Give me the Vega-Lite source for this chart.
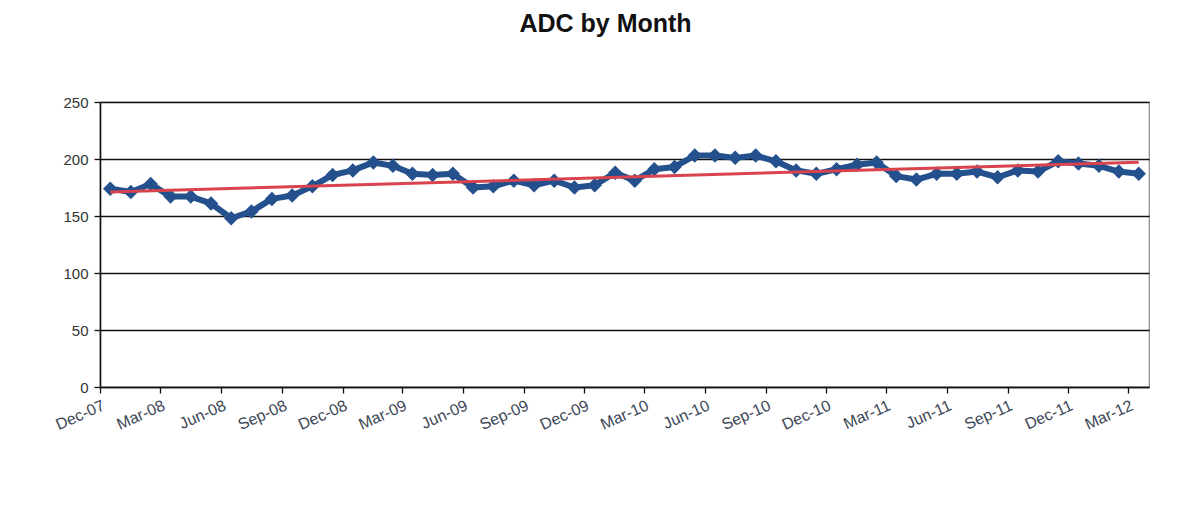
{
  "$schema": "https://vega.github.io/schema/vega-lite/v6.json",
  "autosize": {"type": "none"},
  "width": 1049,
  "height": 285,
  "padding": {"left": 100, "top": 102, "right": 47, "bottom": 144},
  "background": "white",
  "title": {
    "text": "ADC by Month",
    "font": "Liberation Sans",
    "fontSize": 25,
    "fontWeight": "bold",
    "color": "#111111",
    "anchor": "middle",
    "dx": -19,
    "offset": 58
  },
  "data": {
    "format": {"parse": {"month": "date"}},
    "values": [
      {"month": "2007-12-01", "adc": 174},
      {"month": "2008-01-01", "adc": 171},
      {"month": "2008-02-01", "adc": 178},
      {"month": "2008-03-01", "adc": 167},
      {"month": "2008-04-01", "adc": 167},
      {"month": "2008-05-01", "adc": 161},
      {"month": "2008-06-01", "adc": 148},
      {"month": "2008-07-01", "adc": 154},
      {"month": "2008-08-01", "adc": 165},
      {"month": "2008-09-01", "adc": 168},
      {"month": "2008-10-01", "adc": 176},
      {"month": "2008-11-01", "adc": 186},
      {"month": "2008-12-01", "adc": 190},
      {"month": "2009-01-01", "adc": 197},
      {"month": "2009-02-01", "adc": 194},
      {"month": "2009-03-01", "adc": 187},
      {"month": "2009-04-01", "adc": 186},
      {"month": "2009-05-01", "adc": 187},
      {"month": "2009-06-01", "adc": 175},
      {"month": "2009-07-01", "adc": 176},
      {"month": "2009-08-01", "adc": 181},
      {"month": "2009-09-01", "adc": 177},
      {"month": "2009-10-01", "adc": 181},
      {"month": "2009-11-01", "adc": 175},
      {"month": "2009-12-01", "adc": 177},
      {"month": "2010-01-01", "adc": 188},
      {"month": "2010-02-01", "adc": 181},
      {"month": "2010-03-01", "adc": 191},
      {"month": "2010-04-01", "adc": 193},
      {"month": "2010-05-01", "adc": 203},
      {"month": "2010-06-01", "adc": 203},
      {"month": "2010-07-01", "adc": 201},
      {"month": "2010-08-01", "adc": 203},
      {"month": "2010-09-01", "adc": 198},
      {"month": "2010-10-01", "adc": 190},
      {"month": "2010-11-01", "adc": 187},
      {"month": "2010-12-01", "adc": 191},
      {"month": "2011-01-01", "adc": 195},
      {"month": "2011-02-01", "adc": 197},
      {"month": "2011-03-01", "adc": 185},
      {"month": "2011-04-01", "adc": 182},
      {"month": "2011-05-01", "adc": 187},
      {"month": "2011-06-01", "adc": 187},
      {"month": "2011-07-01", "adc": 189},
      {"month": "2011-08-01", "adc": 184},
      {"month": "2011-09-01", "adc": 190},
      {"month": "2011-10-01", "adc": 189},
      {"month": "2011-11-01", "adc": 198},
      {"month": "2011-12-01", "adc": 196},
      {"month": "2012-01-01", "adc": 194},
      {"month": "2012-02-01", "adc": 189},
      {"month": "2012-03-01", "adc": 187}
    ]
  },
  "encoding": {
    "x": {
      "field": "month",
      "type": "temporal",
      "timeUnit": "utcyearmonth",
      "bandPosition": 0.5,
      "scale": {
        "domain": [
          {"year": 2007, "month": 12, "date": 1, "utc": true},
          {"year": 2012, "month": 4, "date": 1, "utc": true}
        ]
      },
      "axis": {
        "title": null,
        "format": "%b-%y",
        "values": [
          {"year": 2007, "month": 12, "date": 1, "utc": true},
          {"year": 2008, "month": 3, "date": 1, "utc": true},
          {"year": 2008, "month": 6, "date": 1, "utc": true},
          {"year": 2008, "month": 9, "date": 1, "utc": true},
          {"year": 2008, "month": 12, "date": 1, "utc": true},
          {"year": 2009, "month": 3, "date": 1, "utc": true},
          {"year": 2009, "month": 6, "date": 1, "utc": true},
          {"year": 2009, "month": 9, "date": 1, "utc": true},
          {"year": 2009, "month": 12, "date": 1, "utc": true},
          {"year": 2010, "month": 3, "date": 1, "utc": true},
          {"year": 2010, "month": 6, "date": 1, "utc": true},
          {"year": 2010, "month": 9, "date": 1, "utc": true},
          {"year": 2010, "month": 12, "date": 1, "utc": true},
          {"year": 2011, "month": 3, "date": 1, "utc": true},
          {"year": 2011, "month": 6, "date": 1, "utc": true},
          {"year": 2011, "month": 9, "date": 1, "utc": true},
          {"year": 2011, "month": 12, "date": 1, "utc": true},
          {"year": 2012, "month": 3, "date": 1, "utc": true}
        ],
        "grid": false,
        "labelAngle": -24,
        "labelAlign": "right",
        "labelBaseline": "top",
        "labelPadding": 4,
        "labelFont": "Liberation Sans",
        "labelFontSize": 16,
        "labelColor": "#3b4656",
        "labelOverlap": false,
        "labelFlush": false,
        "tickSize": 6,
        "tickColor": "#111111",
        "tickWidth": 1.3,
        "domainColor": "#111111",
        "domainWidth": 1.6
      }
    },
    "y": {
      "field": "adc",
      "type": "quantitative",
      "scale": {"domain": [0, 250]},
      "axis": {
        "title": null,
        "values": [0, 50, 100, 150, 200, 250],
        "grid": true,
        "gridColor": "#111111",
        "gridWidth": 1.4,
        "gridOpacity": 1,
        "labelFont": "Liberation Sans",
        "labelFontSize": 15,
        "labelColor": "#333333",
        "labelPadding": 6,
        "tickSize": 6,
        "tickColor": "#111111",
        "tickWidth": 1.3,
        "domainColor": "#111111",
        "domainWidth": 1.6
      }
    }
  },
  "layer": [
    {
      "mark": {"type": "line", "color": "#24508d", "strokeWidth": 6, "strokeJoin": "round"}
    },
    {
      "mark": {"type": "point", "shape": "diamond", "filled": true, "size": 210, "color": "#24508d", "opacity": 1}
    },
    {
      "transform": [{"regression": "adc", "on": "month"}],
      "mark": {"type": "line", "color": "#d8434e", "strokeWidth": 3}
    }
  ],
  "config": {
    "view": {"stroke": "#8a8a8a", "strokeWidth": 1.2}
  }
}
